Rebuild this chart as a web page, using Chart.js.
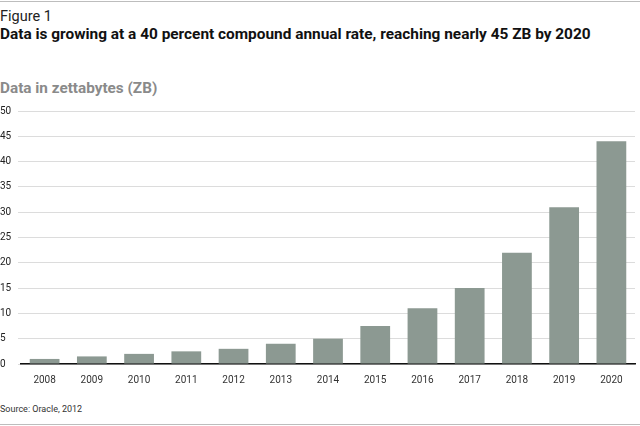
<!DOCTYPE html>
<html>
<head>
<meta charset="utf-8">
<script src="https://cdn.jsdelivr.net/npm/chart.js@4"></script>
<style>
  body { margin: 0; width: 640px; height: 426px; position: relative; overflow: hidden; background: #fff; font-family: Roboto, sans-serif; }
  .rule { position: absolute; left: 0; width: 640px; height: 1px; background: #bdbdbd; }
  .txt { position: absolute; left: 0; white-space: nowrap; }
  #fig { top: 7.5px; font-size: 14.5px; color: #222; }
  #title { top: 24.5px; font-size: 15.4px; font-weight: bold; color: #111; }
  #unit { top: 79px; font-size: 15.3px; font-weight: bold; color: #8a8a8a; }
  #source { top: 404px; font-size: 9px; color: #333; }
  #wrap { position: absolute; left: 0; top: 100px; width: 640px; height: 290px; }
</style>
</head>
<body>
<div class="rule" style="top:1px"></div>
<div class="txt" id="fig">Figure 1</div>
<div class="txt" id="title">Data is growing at a 40 percent compound annual rate, reaching nearly 45 ZB by 2020</div>
<div class="txt" id="unit">Data in zettabytes (ZB)</div>
<div id="wrap"><canvas id="c"></canvas></div>
<div class="txt" id="source">Source: Oracle, 2012</div>
<div class="rule" style="top:424px"></div>
<script>
const years = ["2008", "2009", "2010", "2011", "2012", "2013", "2014", "2015", "2016", "2017", "2018", "2019", "2020"];
const zettabytes = [1, 1.5, 2, 2.5, 3, 4, 5, 7.5, 11, 15, 22, 31, 44];
const yTicks = [0, 5, 10, 15, 20, 25, 30, 35, 40, 45, 50];

new Chart(document.getElementById("c").getContext("2d"), {
  type: "bar",
  data: {
    labels: years,
    datasets: [
      {
        data: zettabytes,
        backgroundColor: "#8c9992",
        barPercentage: 0.63,
        categoryPercentage: 1,
      },
    ],
  },
  options: {
    responsive: true,
    maintainAspectRatio: false,
    animation: false,
    layout: { padding: { top: 11, right: 5, left: 0, bottom: 0 } },
    plugins: { legend: { display: false }, tooltip: { enabled: false } },
    scales: {
      x: {
        grid: { display: false, drawTicks: false },
        border: { color: "#111", width: 1.5 },
        ticks: { color: "#333", font: { family: "Roboto", size: 10 }, padding: 10 },
        afterFit: (s) => { s.height = 26; },
      },
      y: {
        min: 0,
        max: 50,
        afterBuildTicks: (s) => { s.ticks = yTicks.map((v) => ({ value: v })); },
        grid: { color: "#dcdcdc", drawTicks: true, tickLength: 3 },
        border: { display: false },
        ticks: { color: "#222", font: { family: "Roboto", size: 10 }, crossAlign: "far", padding: 4 },
        afterFit: (s) => { s.width = 21; },
      },
    },
  },
});
</script>
</body>
</html>
